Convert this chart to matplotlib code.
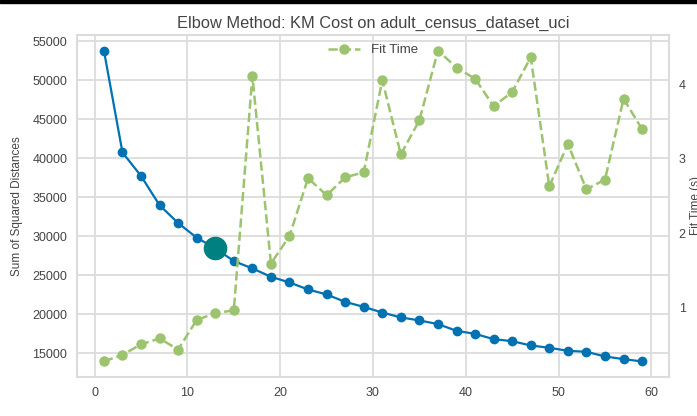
import matplotlib
matplotlib.use("Agg")
import matplotlib.pyplot as plt
from matplotlib.patches import Rectangle

plt.rcParams['font.family'] = ['Liberation Sans', 'DejaVu Sans']

k_values = list(range(1, 60, 2))
distortion = [53800, 40730, 37720, 33960, 31680, 29800, 28450, 26800, 25860, 24790,
              24060, 23160, 22520, 21570, 20930, 20200, 19580, 19190, 18720, 17860,
              17470, 16790, 16530, 15980, 15680, 15300, 15170, 14570, 14230, 13930]
fit_time = [0.27, 0.36, 0.50, 0.58, 0.43, 0.83, 0.92, 0.96, 4.12, 1.59,
            1.96, 2.74, 2.51, 2.75, 2.82, 4.06, 3.06, 3.52, 4.46, 4.23,
            4.08, 3.71, 3.90, 4.37, 2.63, 3.20, 2.59, 2.72, 3.81, 3.40]
elbow_k = 13
elbow_value = 28500

title = "Elbow Method: KM Cost on adult_census_dataset_uci"

W, H = 697, 416
fig = plt.figure(figsize=(W / 100, H / 100), dpi=100)
ax = fig.add_axes([77 / W, (H - 377) / H, (669 - 77) / W, (377 - 35) / H])

grid_c = '#dcdcdc'
text_c = '#444444'
blue = '#0072b2'
green = '#9cc46e'
teal = '#008080'

ax.set_facecolor('white')
for s in ax.spines.values():
    s.set_color(grid_c)
    s.set_linewidth(1.5)
ax.grid(True, color=grid_c, linewidth=1.3)
ax.set_axisbelow(True)

ax.plot(k_values, distortion, color=blue, marker='o', markersize=6, linewidth=1.6, zorder=3)
ax.plot([elbow_k], [elbow_value], marker='o', color=teal, markersize=16, linestyle='none', zorder=4)

ax.set_xticks([0, 10, 20, 30, 40, 50, 60])
ax.set_yticks([15000, 20000, 25000, 30000, 35000, 40000, 45000, 50000, 55000])
ax.tick_params(axis='both', length=0, labelsize=9, labelcolor=text_c, pad=7)
ax.set_ylabel("Sum of Squared Distances", fontsize=8.5, color=text_c, labelpad=7)
ax.set_title(title, fontsize=11.8, color=text_c, pad=5)

ax2 = ax.twinx()
ax2.plot(k_values, fit_time, color=green, marker='o', markersize=6.5, linewidth=1.8,
         linestyle='--', label='Fit Time')
ax2.grid(False)
for s in ax2.spines.values():
    s.set_visible(False)
ax2.set_yticks([1, 2, 3, 4])
ax2.tick_params(axis='y', length=0, labelsize=9, labelcolor=text_c, pad=7)
ax2.set_ylabel("Fit Time (s)", fontsize=8.5, color=text_c, labelpad=3)
ax2.legend(loc='upper center', frameon=False, fontsize=9.5, labelcolor=text_c,
           handlelength=2.4, borderaxespad=0.3)

fig.patches.append(Rectangle((0, 1 - 2.5 / H), 1, 2.5 / H, transform=fig.transFigure,
                             color='black', zorder=10))

fig.savefig('out.png', dpi=100, facecolor='white')
